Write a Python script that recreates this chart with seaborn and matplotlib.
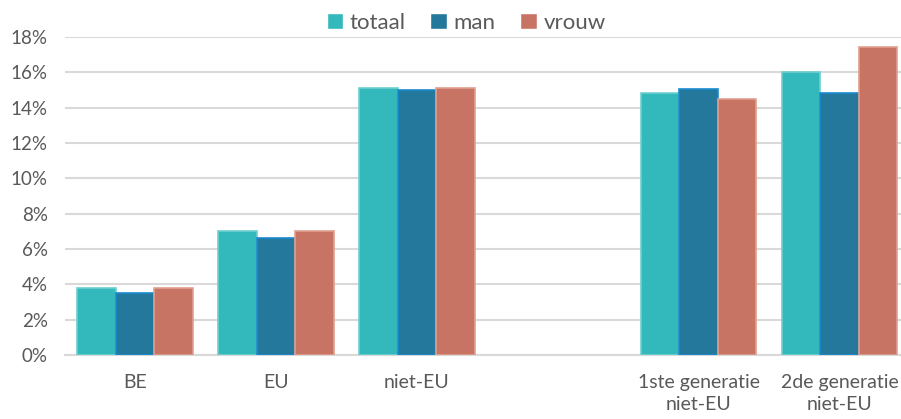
import matplotlib
matplotlib.use("Agg")
import matplotlib.pyplot as plt
import numpy as np
import pandas as pd
import seaborn as sns
from matplotlib.ticker import PercentFormatter

categories = ["BE", "EU", "niet-EU", " ", "1ste generatie\nniet-EU", "2de generatie\nniet-EU"]
series = ["totaal", "man", "vrouw"]
totaal = [3.8, 7.0, 15.1, np.nan, 14.8, 16.0]
man = [3.5, 6.6, 15.0, np.nan, 15.05, 14.85]
vrouw = [3.8, 7.0, 15.1, np.nan, 14.5, 17.4]

colors = {"totaal": "#33B8BC", "man": "#23789B", "vrouw": "#C87464"}
edges = {"totaal": "#6FCFD1", "man": "#1A8AD0", "vrouw": "#E0A090"}

rows = []
for name, vals in zip(series, [totaal, man, vrouw]):
    for cat, v in zip(categories, vals):
        rows.append({"cat": cat, "serie": name, "val": v})
df = pd.DataFrame(rows)

sns.set_style("white")
plt.rcParams["font.family"] = ["Lato", "DejaVu Sans"]

fig, ax = plt.subplots(figsize=(9.01, 4.19), dpi=100)
fig.subplots_adjust(left=0.0716, right=1.01, top=0.912, bottom=0.153)

sns.barplot(data=df, x="cat", y="val", hue="serie", order=categories,
            hue_order=series, palette=colors, width=0.82, saturation=1,
            ax=ax, zorder=3)

for cont, name in zip(ax.containers, series):
    for p in cont:
        p.set_edgecolor(edges[name])
        p.set_linewidth(1.2)

ax.set_ylim(0, 18)
ax.set_yticks(np.arange(0, 19, 2))
ax.yaxis.set_major_formatter(PercentFormatter(decimals=0))
ax.grid(axis="y", color="#D9D9D9", linewidth=1.5, zorder=0)
ax.set_axisbelow(True)
for s in ["top", "right", "left"]:
    ax.spines[s].set_visible(False)
ax.spines["bottom"].set_color("#D9D9D9")
ax.spines["bottom"].set_linewidth(1.5)
ax.set_xlabel("")
ax.set_ylabel("")
ax.tick_params(axis="both", length=0, labelcolor="#595959")
ax.tick_params(axis="x", pad=14, labelsize=14)
ax.tick_params(axis="y", pad=12, labelsize=13.5)
for t in ax.get_xticklabels():
    t.set_linespacing(1.35)

handles, labels = ax.get_legend_handles_labels()
leg = ax.legend(handles, labels, loc="lower center", bbox_to_anchor=(0.475, 0.985),
                ncol=3, frameon=False, fontsize=16, handlelength=0.75,
                handleheight=0.75, handletextpad=0.3, columnspacing=1.1,
                borderaxespad=0)
for t in leg.get_texts():
    t.set_color("#595959")

fig.savefig("out.png", dpi=100)
